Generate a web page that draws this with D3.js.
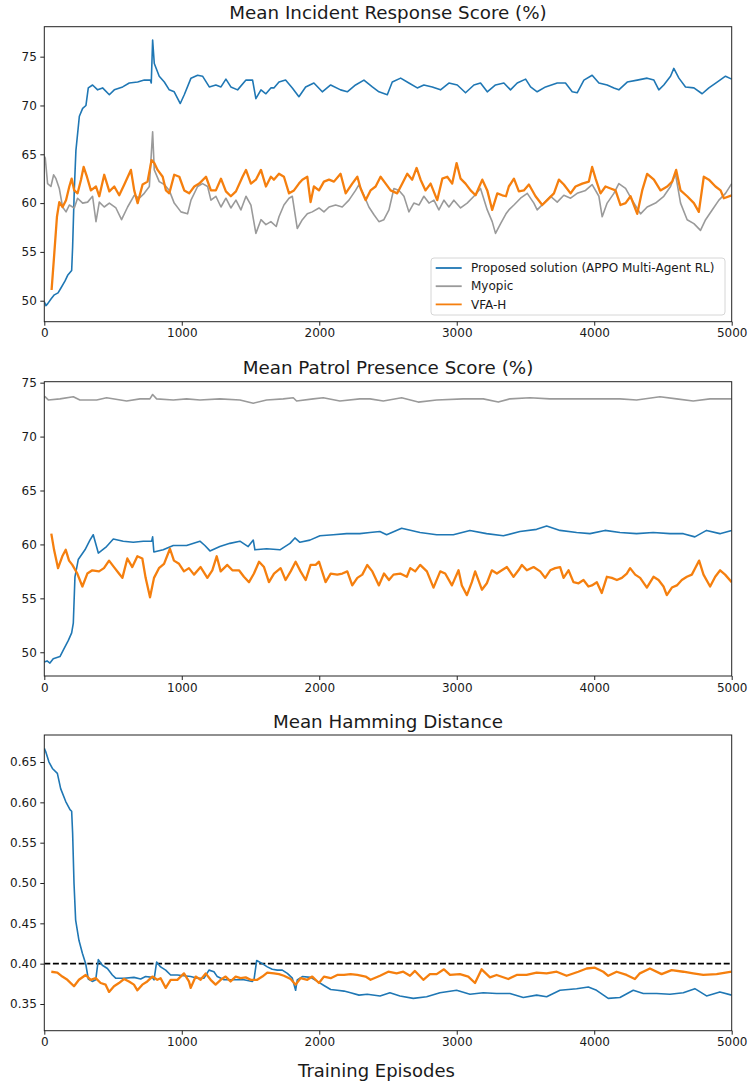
<!DOCTYPE html>
<html>
<head>
<meta charset="utf-8">
<script src="https://cdn.jsdelivr.net/npm/d3@7"></script>
<style>
  body { margin: 0; background: #fff; }
  text { font-family: "DejaVu Sans", sans-serif; fill: #1a1a1a; }
</style>
</head>
<body>
<div id="chart"></div>
<script>
// Series names and colours (legend order)
const seriesNames = ["Proposed solution (APPO Multi-Agent RL)", "Myopic", "VFA-H"];
const panelTitles = ["Mean Incident Response Score (%)", "Mean Patrol Presence Score (%)", "Mean Hamming Distance"];
const xLabel = "Training Episodes";
const xTicks = [0, 1000, 2000, 3000, 4000, 5000];
const scoreTicks = [50, 55, 60, 65, 70, 75];
const hammingTicks = [0.35, 0.40, 0.45, 0.50, 0.55, 0.60, 0.65];
const hammingThreshold = 0.40;

// [episode, value]
const incidentProposed = [[0,49.9],[12,49.5],[25,49.7],[50,50.2],[73,50.6],[100,50.8],[121,51.3],[150,52.0],[170,52.6],[199,53.1],[206,55.5],[218,61.3],[230,65.4],[255,68.9],[279,69.7],[303,70.0],[320,71.8],[351,72.1],[388,71.6],[424,71.8],[473,71.1],[509,71.6],[570,71.9],[618,72.3],[679,72.4],[727,72.6],[771,72.6],[778,72.3],[788,76.7],[800,74.3],[836,73.0],[873,72.4],[909,71.6],[945,71.4],[989,70.2],[1018,71.1],[1067,72.8],[1115,73.1],[1151,73.0],[1200,71.9],[1248,72.1],[1285,71.9],[1321,72.7],[1357,71.9],[1406,71.6],[1467,72.6],[1515,72.6],[1539,70.7],[1576,71.6],[1612,71.2],[1648,71.8],[1670,71.8],[1707,72.4],[1755,72.6],[1804,71.8],[1852,70.9],[1901,71.9],[1961,72.3],[2022,71.4],[2083,72.1],[2155,71.6],[2204,71.4],[2264,72.1],[2325,72.6],[2386,71.9],[2434,71.4],[2495,71.1],[2531,72.4],[2592,72.8],[2652,72.3],[2713,71.8],[2761,72.1],[2822,71.9],[2882,71.6],[2943,72.3],[3004,72.1],[3064,71.3],[3125,72.1],[3173,72.3],[3222,71.4],[3282,72.1],[3343,72.3],[3391,71.6],[3440,72.3],[3501,72.7],[3537,71.9],[3585,71.4],[3646,71.9],[3731,72.3],[3791,72.3],[3840,71.4],[3876,71.3],[3925,72.6],[3985,73.1],[4034,72.3],[4094,72.1],[4143,71.8],[4179,71.6],[4240,72.4],[4313,72.6],[4385,72.8],[4434,72.6],[4470,71.6],[4506,72.1],[4555,73.0],[4579,73.8],[4616,72.8],[4664,71.9],[4725,71.8],[4785,71.2],[4834,71.8],[4894,72.4],[4955,73.0],[5000,72.7]];

const incidentMyopic = [[0,64.8],[7,64.6],[24,62.0],[48,61.7],[68,62.9],[85,62.5],[109,61.5],[133,59.6],[158,59.1],[182,59.8],[218,59.5],[242,60.5],[279,60.0],[315,60.1],[351,60.7],[376,58.1],[400,60.1],[436,59.6],[473,60.0],[521,59.5],[562,58.3],[606,59.6],[654,60.8],[691,60.5],[727,61.0],[764,61.7],[788,67.3],[800,63.4],[836,62.2],[873,61.9],[909,61.3],[945,60.0],[994,59.1],[1042,58.9],[1067,60.3],[1115,61.7],[1151,62.0],[1188,61.7],[1212,60.3],[1248,60.7],[1285,59.6],[1321,60.5],[1357,59.5],[1394,60.3],[1430,59.3],[1467,60.7],[1503,59.8],[1539,56.9],[1576,58.3],[1612,57.8],[1648,58.1],[1687,57.6],[1707,58.6],[1743,59.8],[1780,60.5],[1804,60.7],[1840,57.4],[1877,58.3],[1913,58.9],[1949,59.1],[1998,59.5],[2034,59.1],[2071,59.6],[2119,59.8],[2167,59.6],[2216,60.3],[2264,61.3],[2289,61.9],[2325,60.8],[2361,59.6],[2398,58.8],[2434,58.1],[2470,58.3],[2507,59.3],[2543,61.5],[2580,61.3],[2616,60.7],[2652,59.1],[2688,60.0],[2725,59.8],[2761,60.7],[2798,60.0],[2834,60.3],[2870,59.3],[2907,60.3],[2943,59.6],[2979,60.3],[3028,59.5],[3076,60.0],[3125,60.7],[3173,61.5],[3222,59.3],[3258,58.1],[3282,56.9],[3319,57.9],[3358,58.9],[3379,59.3],[3416,59.8],[3464,60.5],[3513,61.0],[3561,60.0],[3585,59.3],[3634,60.0],[3682,60.7],[3731,60.1],[3779,60.8],[3828,60.5],[3876,61.0],[3937,61.3],[3985,61.9],[4034,60.7],[4058,58.6],[4094,60.0],[4143,61.0],[4179,62.0],[4228,61.5],[4276,60.3],[4337,58.9],[4385,59.6],[4446,60.0],[4506,60.7],[4555,61.7],[4591,63.0],[4628,60.0],[4676,58.3],[4725,57.9],[4773,57.2],[4810,58.3],[4858,59.3],[4907,60.3],[4955,61.0],[5000,62.0]];

const incidentVfa = [[53,51.1],[73,54.9],[92,58.6],[109,60.1],[133,59.6],[158,60.3],[182,61.7],[199,62.5],[218,61.3],[242,61.0],[267,62.4],[286,63.7],[310,62.7],[339,61.3],[376,61.7],[400,60.7],[436,62.9],[473,61.2],[509,61.7],[545,60.8],[582,61.9],[630,63.4],[654,61.3],[679,60.0],[715,61.9],[751,62.2],[780,64.4],[800,64.1],[824,63.4],[861,62.7],[885,61.3],[909,61.0],[945,62.9],[982,62.7],[1018,61.3],[1054,61.0],[1091,61.7],[1127,62.0],[1176,62.7],[1212,61.3],[1248,61.3],[1285,62.5],[1321,61.2],[1357,60.7],[1394,61.2],[1442,62.7],[1467,63.4],[1503,62.0],[1539,62.4],[1576,63.4],[1612,61.7],[1648,62.7],[1670,62.4],[1707,63.0],[1743,62.7],[1780,61.0],[1816,61.3],[1852,62.0],[1877,62.4],[1913,62.7],[1937,60.1],[1961,61.7],[1998,61.3],[2034,62.2],[2071,62.4],[2107,62.2],[2155,63.0],[2192,61.0],[2240,62.0],[2277,62.7],[2301,61.5],[2337,60.3],[2373,61.3],[2410,61.7],[2446,62.7],[2483,62.0],[2519,61.3],[2567,61.0],[2604,62.0],[2640,63.0],[2676,62.4],[2708,63.6],[2737,62.4],[2773,61.3],[2810,62.0],[2858,60.3],[2895,62.5],[2931,62.7],[2967,62.0],[2999,64.1],[3028,62.5],[3064,62.0],[3101,61.3],[3137,60.8],[3186,62.4],[3222,61.3],[3258,59.3],[3295,61.0],[3331,60.8],[3358,60.7],[3379,61.7],[3416,62.5],[3452,61.2],[3488,61.3],[3525,61.9],[3573,60.7],[3622,59.8],[3658,60.3],[3707,61.0],[3743,62.4],[3779,61.9],[3828,61.0],[3864,61.7],[3913,62.0],[3961,62.2],[3985,63.7],[4010,62.5],[4046,61.0],[4082,61.7],[4119,61.5],[4155,61.3],[4191,59.8],[4228,60.0],[4264,60.7],[4313,58.9],[4349,61.3],[4385,63.0],[4434,62.4],[4482,61.3],[4531,61.7],[4567,62.2],[4596,63.4],[4628,61.3],[4676,60.7],[4725,60.0],[4761,59.1],[4797,62.7],[4834,62.4],[4882,61.7],[4919,61.3],[4943,60.5],[5000,60.8]];

const patrolProposed = [[0,49.1],[20,49.2],[41,49.0],[65,49.4],[114,49.6],[138,50.2],[175,51.1],[199,51.8],[211,52.7],[223,57.0],[247,58.6],[296,59.5],[332,60.4],[356,60.9],[393,59.2],[453,59.8],[502,60.5],[574,60.3],[647,60.2],[720,60.3],[781,60.3],[788,60.7],[797,59.3],[865,59.5],[938,59.9],[1035,59.9],[1132,60.3],[1168,59.9],[1205,59.4],[1277,59.8],[1350,60.1],[1423,60.3],[1483,59.8],[1520,60.4],[1532,59.5],[1617,59.6],[1714,59.5],[1787,60.1],[1823,60.6],[1859,60.2],[1932,60.4],[2005,60.8],[2102,60.9],[2199,61.0],[2295,61.0],[2369,61.1],[2441,61.2],[2490,60.9],[2599,61.5],[2733,61.1],[2854,60.9],[2975,60.9],[3096,61.3],[3217,61.0],[3339,60.8],[3460,61.2],[3581,61.4],[3654,61.7],[3751,61.3],[3872,61.1],[3969,61.0],[4078,61.3],[4187,61.1],[4308,61.0],[4429,61.1],[4551,61.0],[4648,61.0],[4732,60.7],[4817,61.3],[4914,61.0],[5000,61.3]];

const patrolMyopic = [[0,73.6],[5,73.7],[29,73.4],[114,73.5],[211,73.7],[259,73.4],[381,73.4],[453,73.6],[599,73.3],[696,73.5],[768,73.5],[788,73.9],[817,73.5],[938,73.4],[1035,73.5],[1132,73.4],[1277,73.5],[1423,73.4],[1520,73.1],[1617,73.4],[1738,73.5],[1811,73.6],[1835,73.3],[1956,73.5],[2029,73.6],[2150,73.3],[2295,73.5],[2369,73.5],[2466,73.3],[2599,73.6],[2720,73.2],[2854,73.4],[3048,73.5],[3193,73.5],[3302,73.2],[3387,73.5],[3532,73.6],[3678,73.5],[3823,73.5],[4017,73.5],[4187,73.5],[4308,73.4],[4478,73.7],[4599,73.5],[4720,73.3],[4842,73.5],[4975,73.5],[5000,73.5]];

const patrolVfa = [[51,61.0],[71,59.5],[100,57.8],[131,58.9],[156,59.5],[180,58.5],[204,58.1],[240,57.3],[277,56.1],[313,57.3],[349,57.6],[398,57.5],[434,57.8],[471,58.5],[507,57.9],[543,57.3],[568,56.9],[604,58.7],[640,57.9],[677,58.9],[713,58.7],[737,56.9],[769,55.1],[798,56.9],[834,57.8],[871,58.2],[914,59.6],[943,58.5],[980,58.2],[1016,57.5],[1052,57.8],[1089,57.2],[1137,57.9],[1186,56.9],[1222,57.6],[1254,58.9],[1283,57.5],[1331,58.1],[1368,57.6],[1416,57.6],[1452,57.0],[1489,56.5],[1525,57.3],[1562,58.4],[1598,57.9],[1634,56.5],[1671,57.3],[1719,57.8],[1755,56.7],[1792,57.5],[1828,58.4],[1864,57.5],[1901,56.7],[1937,58.1],[1974,58.1],[1998,58.4],[2046,56.5],[2083,57.3],[2131,57.2],[2168,57.3],[2204,57.5],[2240,56.2],[2277,56.9],[2313,57.2],[2349,58.1],[2386,57.5],[2434,56.2],[2471,57.3],[2507,56.7],[2540,57.2],[2589,57.3],[2637,57.0],[2662,57.8],[2698,57.5],[2734,58.1],[2783,57.5],[2831,56.0],[2880,57.5],[2916,57.3],[2965,56.2],[3013,57.6],[3037,56.2],[3074,55.3],[3110,56.5],[3134,57.5],[3183,55.8],[3219,56.4],[3255,57.6],[3292,57.3],[3328,57.6],[3365,57.9],[3413,57.0],[3449,57.6],[3474,58.1],[3510,57.6],[3559,57.9],[3607,57.5],[3643,56.9],[3680,57.6],[3716,57.8],[3752,57.9],[3777,56.9],[3813,57.6],[3849,56.5],[3886,56.4],[3922,56.7],[3958,56.1],[3983,56.2],[4019,56.5],[4055,55.5],[4092,57.0],[4128,56.9],[4165,56.7],[4201,56.9],[4237,57.3],[4261,57.8],[4298,57.2],[4334,56.9],[4383,56.0],[4431,57.0],[4468,56.7],[4504,56.1],[4528,55.3],[4565,56.0],[4601,56.2],[4637,56.7],[4674,57.0],[4710,57.2],[4734,57.8],[4763,58.5],[4795,57.2],[4843,56.1],[4880,57.0],[4916,57.6],[4952,57.2],[5000,56.5]];

const hammingProposed = [[0,0.667],[10,0.663],[34,0.650],[59,0.642],[95,0.636],[119,0.617],[156,0.601],[187,0.591],[199,0.589],[206,0.562],[216,0.500],[228,0.454],[252,0.429],[277,0.413],[301,0.400],[320,0.381],[349,0.378],[374,0.380],[393,0.405],[422,0.398],[459,0.394],[495,0.386],[519,0.382],[580,0.382],[652,0.383],[701,0.381],[737,0.384],[786,0.383],[798,0.380],[817,0.402],[846,0.396],[883,0.392],[919,0.386],[968,0.386],[1016,0.385],[1065,0.384],[1113,0.382],[1162,0.382],[1198,0.392],[1234,0.390],[1258,0.384],[1307,0.380],[1355,0.380],[1404,0.380],[1452,0.380],[1513,0.378],[1525,0.380],[1545,0.404],[1586,0.400],[1622,0.396],[1658,0.393],[1695,0.392],[1731,0.392],[1768,0.388],[1804,0.382],[1828,0.367],[1840,0.380],[1877,0.384],[1937,0.383],[1986,0.378],[2034,0.373],[2083,0.368],[2131,0.367],[2180,0.366],[2228,0.364],[2289,0.361],[2349,0.362],[2442,0.360],[2514,0.364],[2587,0.360],[2684,0.357],[2781,0.359],[2878,0.364],[2999,0.367],[3096,0.362],[3193,0.364],[3290,0.363],[3387,0.363],[3484,0.358],[3581,0.361],[3654,0.359],[3751,0.367],[3872,0.369],[3957,0.371],[4017,0.367],[4102,0.357],[4187,0.358],[4284,0.367],[4357,0.363],[4454,0.363],[4551,0.362],[4648,0.364],[4732,0.369],[4817,0.360],[4914,0.365],[5000,0.361]];

const hammingVfa = [[51,0.390],[95,0.389],[131,0.384],[168,0.380],[216,0.372],[252,0.380],[301,0.386],[337,0.380],[374,0.382],[410,0.376],[446,0.374],[471,0.365],[507,0.372],[543,0.376],[580,0.381],[616,0.378],[652,0.374],[677,0.367],[713,0.374],[749,0.378],[786,0.384],[822,0.380],[846,0.382],[883,0.370],[919,0.380],[968,0.380],[1016,0.388],[1052,0.378],[1065,0.370],[1101,0.384],[1137,0.380],[1174,0.388],[1210,0.380],[1246,0.374],[1283,0.380],[1319,0.384],[1355,0.378],[1392,0.384],[1428,0.382],[1465,0.383],[1501,0.380],[1549,0.380],[1586,0.384],[1622,0.389],[1671,0.388],[1707,0.387],[1743,0.385],[1792,0.381],[1828,0.374],[1864,0.382],[1913,0.380],[1949,0.384],[1998,0.376],[2034,0.384],[2083,0.382],[2131,0.386],[2180,0.386],[2228,0.387],[2277,0.386],[2337,0.384],[2373,0.380],[2442,0.385],[2502,0.390],[2563,0.388],[2611,0.390],[2660,0.385],[2696,0.391],[2757,0.380],[2805,0.387],[2854,0.387],[2907,0.393],[2951,0.386],[3023,0.387],[3084,0.384],[3133,0.376],[3181,0.393],[3242,0.383],[3290,0.386],[3375,0.381],[3436,0.386],[3508,0.386],[3581,0.389],[3654,0.388],[3727,0.390],[3799,0.385],[3884,0.390],[3945,0.394],[4005,0.395],[4066,0.390],[4102,0.385],[4163,0.390],[4235,0.386],[4296,0.381],[4332,0.388],[4405,0.394],[4490,0.387],[4563,0.392],[4648,0.390],[4720,0.388],[4793,0.386],[4890,0.387],[5000,0.390]];

// Styling
const colors = ["#1f77b4", "#9a9a9a", "#f57f0e"];
const widths = [1.6, 1.6, 2.3];

const width = 751, height = 1084;
const left = 44.3, right = 731.7;

const panels = [
    { title: panelTitles[0], top: 26.7, bottom: 321.7, domain: [47.85, 78.07], ticks: scoreTicks, fmt: d3.format("d"),
      series: [incidentProposed, incidentMyopic, incidentVfa], legend: true },
    { title: panelTitles[1], top: 381.7, bottom: 676, domain: [47.8, 75.09], ticks: scoreTicks, fmt: d3.format("d"),
      series: [patrolProposed, patrolMyopic, patrolVfa] },
    { title: panelTitles[2], top: 735, bottom: 1030.7, domain: [0.3169, 0.6835], ticks: hammingTicks, fmt: d3.format(".2f"),
      series: [hammingProposed, null, hammingVfa], threshold: hammingThreshold }
];

const svg = d3.select("#chart").append("svg")
    .attr("width", width)
    .attr("height", height);

const x = d3.scaleLinear().domain([0, 5000]).range([left, right]);

panels.forEach(p => {
    const y = d3.scaleLinear().domain(p.domain).range([p.bottom, p.top]);
    const g = svg.append("g");

    const clipId = "clip" + Math.round(p.top);
    g.append("clipPath").attr("id", clipId)
        .append("rect")
        .attr("x", left).attr("y", p.top)
        .attr("width", right - left).attr("height", p.bottom - p.top);

    const line = d3.line().x(d => x(d[0])).y(d => y(d[1]));

    const plot = g.append("g").attr("clip-path", `url(#${clipId})`);

    if (p.threshold !== undefined) {
        plot.append("line")
            .attr("x1", left).attr("x2", right)
            .attr("y1", y(p.threshold)).attr("y2", y(p.threshold))
            .attr("stroke", "#000")
            .attr("stroke-width", 1.6)
            .attr("stroke-dasharray", "6,2.6");
    }

    p.series.forEach((s, i) => {
        if (!s) return;
        plot.append("path")
            .datum(s)
            .attr("fill", "none")
            .attr("stroke", colors[i])
            .attr("stroke-width", widths[i])
            .attr("stroke-linejoin", "round")
            .attr("d", line);
    });

    // axes
    const xAxis = g.append("g")
        .attr("transform", `translate(0,${p.bottom})`)
        .call(d3.axisBottom(x).tickValues(xTicks).tickFormat(d3.format("d")).tickSize(4).tickPadding(3));
    const yAxis = g.append("g")
        .attr("transform", `translate(${left},0)`)
        .call(d3.axisLeft(y).tickValues(p.ticks).tickFormat(p.fmt).tickSize(4).tickPadding(3.5));
    [xAxis, yAxis].forEach(a => {
        a.select(".domain").remove();
        a.selectAll(".tick line").attr("stroke", "#222").attr("stroke-width", 1);
        a.selectAll(".tick text")
            .style("font-family", "DejaVu Sans")
            .style("font-size", "12px")
            .attr("fill", "#1a1a1a");
    });

    // frame
    g.append("rect")
        .attr("x", left).attr("y", p.top)
        .attr("width", right - left).attr("height", p.bottom - p.top)
        .attr("fill", "none")
        .attr("stroke", "#222")
        .attr("stroke-width", 1);

    g.append("text")
        .attr("x", (left + right) / 2)
        .attr("y", p.top - 7.4)
        .attr("text-anchor", "middle")
        .style("font-size", "18.3px")
        .text(p.title);

    if (p.legend) {
        const lg = g.append("g").attr("transform", "translate(431,258)");
        lg.append("rect")
            .attr("width", 294).attr("height", 57)
            .attr("rx", 3)
            .attr("fill", "#fff").attr("fill-opacity", 0.8)
            .attr("stroke", "#d6d6d6");
        seriesNames.forEach((name, i) => {
            const yy = 10 + i * 18.2;
            lg.append("line")
                .attr("x1", 4.7).attr("x2", 30.7)
                .attr("y1", yy).attr("y2", yy)
                .attr("stroke", colors[i]).attr("stroke-width", 1.8);
            lg.append("text")
                .attr("x", 40).attr("y", yy)
                .attr("dy", "0.35em")
                .style("font-size", "12px")
                .text(name);
        });
    }
});

svg.append("text")
    .attr("x", 376.5)
    .attr("y", 1077)
    .attr("text-anchor", "middle")
    .style("font-size", "18px")
    .text(xLabel);
</script>
</body>
</html>
